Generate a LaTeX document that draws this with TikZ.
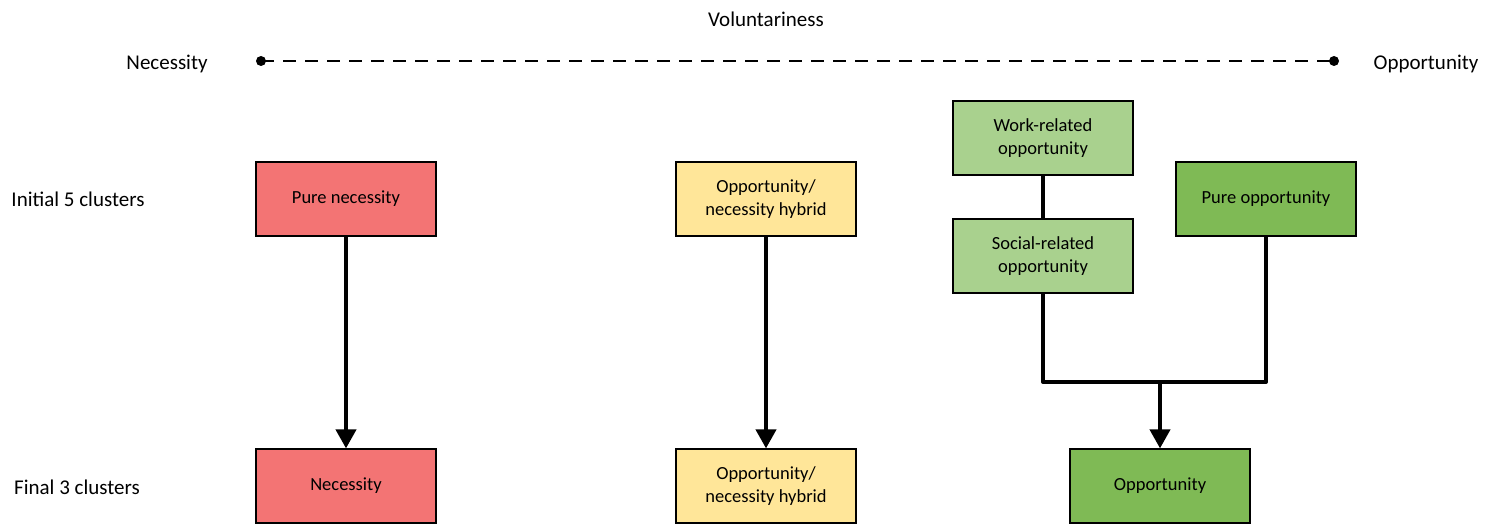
\documentclass[tikz,border=0pt]{standalone}
\usepackage{fontspec}
\setmainfont{Carlito}
\usetikzlibrary{arrows.meta}
\definecolor{necred}{HTML}{F37474}
\definecolor{hybyellow}{HTML}{FFE699}
\definecolor{lightgreen}{HTML}{A9D18E}
\definecolor{oppgreen}{HTML}{7FBA55}
\tikzset{
  cluster/.style={draw=black, line width=1.2pt, minimum width=180pt, minimum height=74pt,
    align=center, font=\fontsize{18.5}{23}\selectfont, inner sep=2pt},
  lbl/.style={font=\fontsize{21}{25}\selectfont, inner sep=0pt},
  flow/.style={line width=4pt},
  flowarrow/.style={flow, -{Triangle[width=20pt,length=19pt]}},
}
\begin{document}
\begin{tikzpicture}[x=1pt, y=-1pt]
\useasboundingbox (0,0) rectangle (1498,524);

% voluntariness scale
\node[lbl] (vol) at (766,19) {Voluntariness};
\node[lbl] (necl) at (167,64) {Necessity};
\node[lbl] (oppl) at (1426,64) {Opportunity};
\coordinate (sl) at (261,61);
\coordinate (sr) at (1334,61);
\draw[line width=1.5pt, dash pattern=on 13pt off 9pt] (sl) -- (sr);
\fill (sl) circle (5pt);
\fill (sr) circle (5pt);

% row labels
\node[lbl] (init) at (78,199) {Initial 5 clusters};
\node[lbl] (fin) at (77,487) {Final 3 clusters};

% initial clusters
\node[cluster, fill=necred] (pn) at (346,199) {Pure necessity};
\node[cluster, fill=hybyellow] (hy1) at (766,199) {Opportunity/\\necessity hybrid};
\node[cluster, fill=lightgreen] (wr) at (1043,138) {Work-related\\opportunity};
\node[cluster, fill=lightgreen] (sr2) at (1043,256) {Social-related\\opportunity};
\node[cluster, fill=oppgreen] (po) at (1266,199) {Pure opportunity};

% final clusters
\node[cluster, fill=necred] (ne) at (346,486) {Necessity};
\node[cluster, fill=hybyellow] (hy2) at (766,486) {Opportunity/\\necessity hybrid};
\node[cluster, fill=oppgreen] (op) at (1160,486) {Opportunity};

% connectors
\draw[flowarrow] (pn) -- (ne);
\draw[flowarrow] (hy1) -- (hy2);
\draw[flow] (wr) -- (sr2);
\coordinate (join) at (1160,382);
\draw[flow, line join=round] (sr2.south) -- (1043,382) -- (1266,382) -- (po.south);
\draw[flowarrow] (join) -- (op);
\end{tikzpicture}
\end{document}
